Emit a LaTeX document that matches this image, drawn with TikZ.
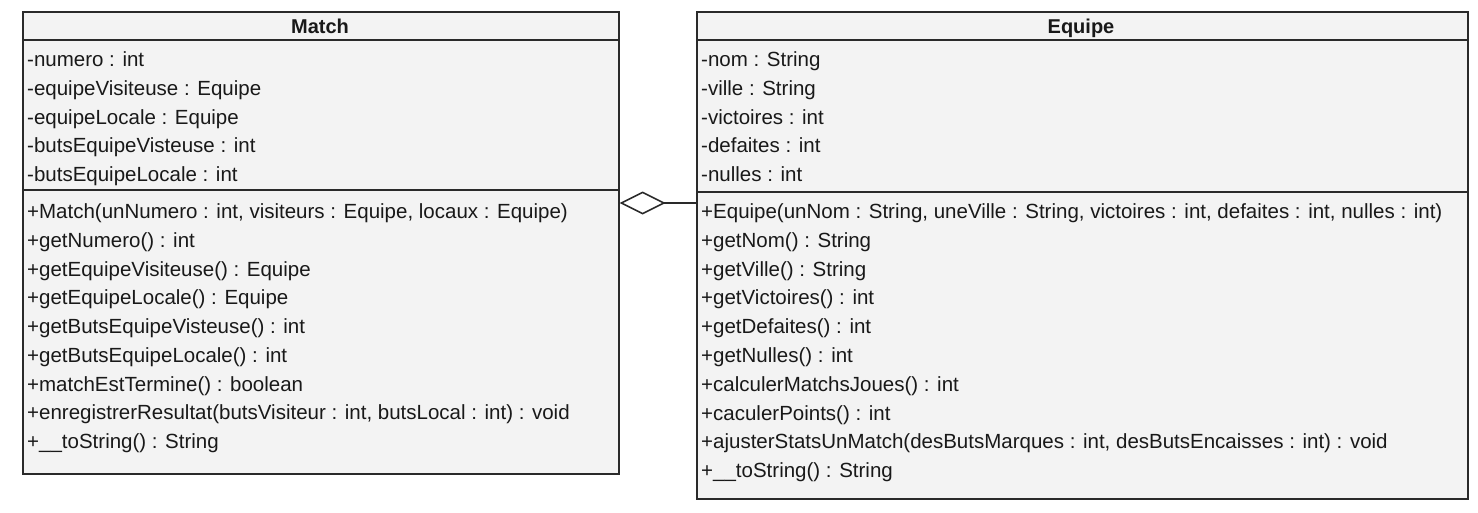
\documentclass[tikz,border=0pt]{standalone}
\usepackage{fontspec}
\setmainfont{Liberation Sans}
\usetikzlibrary{arrows.meta}
\definecolor{boxfill}{HTML}{F3F3F3}
\definecolor{boxline}{HTML}{2A2A2A}
\begin{document}
\begin{tikzpicture}[x=1pt,y=-1pt,
  classbox/.style={draw=boxline, line width=1.6pt, fill=boxfill, inner sep=0pt, anchor=north west},
  sepline/.style={draw=boxline, line width=1.6pt},
  member/.style={anchor=base west, inner sep=0pt, font=\fontsize{20.5}{22}\selectfont, text=black!90},
  title/.style={anchor=base, inner sep=0pt, font=\fontsize{20}{22}\selectfont\bfseries, text=black!90},
  agg/.style={draw=boxline, line width=1.6pt, {Diamond[open,length=46pt,width=23pt,line width=1.6pt]}-}
]
\useasboundingbox (0,0) rectangle (1478,512);
\fill[white] (0,0) rectangle (1478,512);

% Match class
\node[classbox, minimum width=596pt, minimum height=462pt] (match) at (22,11) {};
\draw[sepline] (22,40) -- (618,40);
\draw[sepline] (22,190) -- (618,190);
\node[title] (mt) at (320,33.5) {Match};
\node[member] (m1) at (27,66.5) {-numero : int};
\node[member] (m2) at (27,95.25) {-equipeVisiteuse : Equipe};
\node[member] (m3) at (27,124) {-equipeLocale : Equipe};
\node[member] (m4) at (27,152.75) {-butsEquipeVisteuse : int};
\node[member] (m5) at (27,181.5) {-butsEquipeLocale : int};
\node[member] (mm1) at (27,218.5) {+Match(unNumero : int, visiteurs : Equipe, locaux : Equipe)};
\node[member] (mm2) at (27,247.25) {+getNumero() : int};
\node[member] (mm3) at (27,276) {+getEquipeVisiteuse() : Equipe};
\node[member] (mm4) at (27,304.75) {+getEquipeLocale() : Equipe};
\node[member] (mm5) at (27,333.5) {+getButsEquipeVisteuse() : int};
\node[member] (mm6) at (27,362.25) {+getButsEquipeLocale() : int};
\node[member] (mm7) at (27,391) {+matchEstTermine() : boolean};
\node[member] (mm8) at (27,419.75) {+enregistrerResultat(butsVisiteur : int, butsLocal : int) : void};
\node[member] (mm9) at (27,448.5) {+\_\_toString() : String};

% Equipe class
\node[classbox, minimum width=771pt, minimum height=487pt] (equipe) at (696,11) {};
\draw[sepline] (696,40) -- (1467,40);
\draw[sepline] (696,192) -- (1467,192);
\node[title] (et) at (1081,33.5) {Equipe};
\node[member] (e1) at (701,66.5) {-nom : String};
\node[member] (e2) at (701,95.25) {-ville : String};
\node[member] (e3) at (701,124) {-victoires : int};
\node[member] (e4) at (701,152.75) {-defaites : int};
\node[member] (e5) at (701,181.5) {-nulles : int};
\node[member] (em1) at (701,218.5) {+Equipe(unNom : String, uneVille : String, victoires : int, defaites : int, nulles : int)};
\node[member] (em2) at (701,247.3) {+getNom() : String};
\node[member] (em3) at (701,276.1) {+getVille() : String};
\node[member] (em4) at (701,304.9) {+getVictoires() : int};
\node[member] (em5) at (701,333.7) {+getDefaites() : int};
\node[member] (em6) at (701,362.5) {+getNulles() : int};
\node[member] (em7) at (701,391.3) {+calculerMatchsJoues() : int};
\node[member] (em8) at (701,420.1) {+caculerPoints() : int};
\node[member] (em9) at (701,448.9) {+ajusterStatsUnMatch(desButsMarques : int, desButsEncaisses : int) : void};
\node[member] (em10) at (701,477.7) {+\_\_toString() : String};

% aggregation
\coordinate (aggy) at (0,203);
\draw[agg] (match.east |- aggy) -- (equipe.west |- aggy);
\end{tikzpicture}
\end{document}
